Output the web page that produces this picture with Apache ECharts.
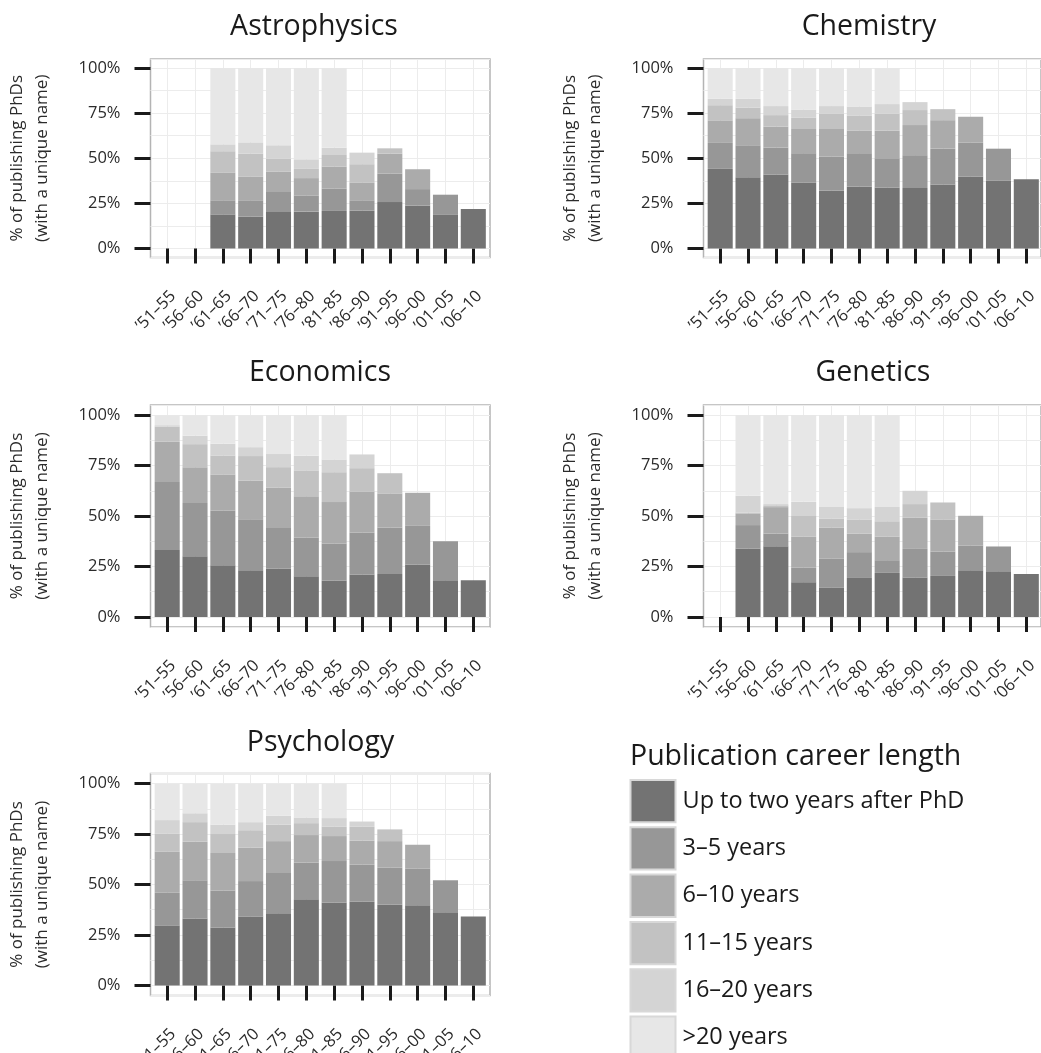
<!DOCTYPE html>
<html>
<head>
<meta charset="utf-8">
<script src="https://cdn.jsdelivr.net/npm/echarts@6/dist/echarts.min.js"></script>
<style>
  html, body { margin: 0; padding: 0; background: #fff; }
  #chart { width: 1041px; height: 1053px; }
</style>
</head>
<body>
<div id="chart"></div>
<script>
// ---------------- DATA ----------------
const categories = ['\u201951\u201355', '\u201956\u201360', '\u201961\u201365', '\u201966\u201370', '\u201971\u201375', '\u201976\u201380',
                    '\u201981\u201385', '\u201986\u201390', '\u201991\u201395', '\u201996\u201300', '\u201901\u201305', '\u201906\u201310'];
const careerLevels = ['Up to two years after PhD', '3\u20135 years', '6\u201310 years', '11\u201315 years', '16\u201320 years', '>20 years'];
const yTickValues = [0, 25, 50, 75, 100];
const disciplineNames = ['Astrophysics', 'Chemistry', 'Economics', 'Genetics', 'Psychology'];

// segment heights (% of publishing PhDs), one row per career level
const astrophysics = [
  [null, null, 18.9, 17.6, 20.2, 20.4, 20.8, 21.1, 25.7, 23.7, 18.6, 21.9],
  [null, null, 7.8, 9.1, 11.1, 9.0, 12.3, 5.6, 15.8, 9.2, 11.2, null],
  [null, null, 15.2, 13.0, 11.2, 9.6, 12.3, 9.9, 11.1, 11.0, null, null],
  [null, null, 12.0, 12.9, 7.3, 5.1, 6.4, 10.1, 2.9, null, null, null],
  [null, null, 3.8, 6.2, 7.4, 5.3, 4.1, 6.4, null, null, null, null],
  [null, null, 42.3, 41.2, 42.8, 50.6, 44.1, null, null, null, null, null]
];
const chemistry = [
  [44.1, 39.5, 41.0, 36.4, 32.0, 34.4, 33.8, 33.5, 35.5, 39.9, 37.5, 38.4],
  [14.4, 17.7, 14.9, 16.4, 18.9, 18.4, 16.2, 18.2, 19.8, 18.7, 17.8, null],
  [12.5, 15.0, 11.6, 13.4, 15.3, 12.6, 15.3, 16.7, 15.8, 14.4, null, null],
  [8.4, 5.9, 6.4, 6.2, 8.6, 8.3, 9.3, 8.3, 6.1, null, null, null],
  [3.5, 4.8, 5.0, 4.6, 4.1, 5.0, 5.4, 4.4, null, null, null, null],
  [17.1, 17.1, 21.1, 23.0, 21.1, 21.3, 20.0, null, null, null, null, null]
];
const economics = [
  [33.2, 30.1, 25.6, 23.1, 24.0, 20.2, 17.9, 21.0, 21.2, 26.0, 18.2, 18.2],
  [33.6, 26.3, 27.0, 25.3, 20.1, 19.0, 18.3, 20.8, 23.1, 19.1, 19.3, null],
  [20.0, 17.8, 17.8, 19.2, 20.0, 20.6, 20.7, 20.3, 16.9, 16.4, null, null],
  [7.5, 11.4, 9.6, 12.1, 10.1, 12.8, 14.8, 11.6, 10.0, null, null, null],
  [0.7, 4.2, 5.8, 4.4, 6.5, 7.2, 6.3, 6.8, null, null, null, null],
  [5.0, 10.2, 14.2, 15.9, 19.3, 20.2, 22.0, null, null, null, null, null]
];
const genetics = [
  [null, 33.9, 35.0, 17.2, 14.4, 19.3, 21.8, 19.5, 20.3, 23.1, 22.6, 21.2],
  [null, 11.6, 6.3, 7.3, 14.4, 12.8, 6.3, 14.2, 12.1, 12.3, 12.3, null],
  [null, 5.8, 13.1, 15.2, 15.5, 9.1, 11.6, 15.4, 15.9, 14.7, null, null],
  [null, 0.4, 0.9, 10.3, 4.3, 7.1, 7.7, 6.8, 8.4, null, null, null],
  [null, 8.3, 0.6, 7.0, 5.9, 5.6, 7.1, 6.6, null, null, null, null],
  [null, 40.0, 44.1, 43.0, 45.5, 46.1, 45.5, null, null, null, null, null]
];
const psychology = [
  [29.5, 33.1, 28.7, 34.1, 35.7, 42.7, 41.0, 41.5, 40.0, 39.7, 36.2, 34.1],
  [16.6, 19.0, 18.3, 17.6, 20.0, 18.1, 20.6, 18.3, 18.3, 18.1, 15.9, null],
  [20.1, 19.1, 18.6, 16.5, 15.8, 13.7, 12.4, 11.9, 13.2, 11.9, null, null],
  [8.9, 9.7, 9.4, 8.7, 8.1, 5.9, 4.6, 6.9, 5.8, null, null, null],
  [6.8, 4.4, 4.7, 4.0, 4.4, 2.8, 4.3, 2.6, null, null, null, null],
  [18.1, 14.7, 20.3, 19.1, 16.0, 16.8, 17.1, null, null, null, null, null]
];
const disciplineData = [astrophysics, chemistry, economics, genetics, psychology];

// ---------------- STYLE / LAYOUT ----------------
const levelColors = ['#737373', '#979797', '#ababab', '#c2c2c2', '#d4d4d4', '#e7e7e7'];
const FONT = '"Open Sans", "Noto Sans", sans-serif';
const layout = [
  { left: 150.5, top: 59,    height: 198.5, titleX: 314,   titleY: 35 },
  { left: 703.5, top: 59,    height: 198.5, titleX: 869,   titleY: 35 },
  { left: 150.5, top: 405,   height: 222,   titleX: 320,   titleY: 381.7 },
  { left: 703.5, top: 405,   height: 222,   titleX: 873,   titleY: 381.7 },
  { left: 150.5, top: 773.5, height: 222,   titleX: 320.5, titleY: 751.7 }
];
const PANEL_W = 339.5;
const BAND = PANEL_W / 12.2;      // category band; 0.6-band padding at each side of the panel
const TITLE_SIZE = 28.5;
const XLABEL_SIZE = 16.5;

const grids = [], xAxes = [], yAxes = [], series = [], graphics = [];
layout.forEach((L, i) => {
  // frame grid: border + horizontal grid lines + y ticks/labels
  grids.push({
    left: L.left, top: L.top, width: PANEL_W, height: L.height,
    show: true, borderColor: '#b4b4b4', borderWidth: 1.5, backgroundColor: 'transparent'
  });
  // inner grid: the bars
  grids.push({
    left: L.left + 0.1 * BAND, top: L.top, width: 12 * BAND, height: L.height, show: false
  });
  xAxes.push({
    gridIndex: 2 * i, type: 'value', min: 0, max: 1, show: false
  });
  xAxes.push({
    gridIndex: 2 * i + 1, type: 'category', data: categories, offset: 1,
    axisLine: { show: false },
    axisTick: { show: true, interval: 0, alignWithLabel: true, length: 15, lineStyle: { width: 3, color: '#1a1a1a' } },
    axisLabel: { show: false, interval: 0 },
    splitLine: { show: true, interval: 0, alignWithLabel: true, lineStyle: { color: '#ececec', width: 1 } }
  });
  yAxes.push({
    gridIndex: 2 * i, type: 'value', min: -5, max: 105,
    axisLine: { show: false },
    axisTick: { show: true, customValues: yTickValues, length: 16, lineStyle: { width: 3, color: '#1a1a1a' } },
    axisLabel: { customValues: yTickValues, formatter: '{value}%', margin: 30, fontSize: 16.5, color: '#2b2b2b', fontFamily: FONT },
    splitLine: { show: false },
    name: '% of publishing PhDs\n(with a unique name)',
    nameLocation: 'middle', nameRotate: 90, nameGap: 96,
    nameTextStyle: { fontSize: 17, lineHeight: 25, color: '#2b2b2b', fontFamily: FONT, align: 'center' }
  });
  yAxes.push({
    gridIndex: 2 * i, type: 'value', min: -5, max: 105, minInterval: 12.5, maxInterval: 12.5,
    position: 'left',
    axisLine: { show: false }, axisTick: { show: false }, axisLabel: { show: false },
    splitLine: { show: true, lineStyle: { color: '#ececec', width: 1 } }
  });
  yAxes.push({
    gridIndex: 2 * i + 1, type: 'value', min: -5, max: 105,
    axisLine: { show: false }, axisTick: { show: false }, axisLabel: { show: false }, splitLine: { show: false }
  });
  disciplineData[i].forEach((vals, j) => {
    series.push({
      type: 'bar', name: careerLevels[j], xAxisIndex: 2 * i + 1, yAxisIndex: 3 * i + 2,
      stack: 'panel' + i, data: vals, barCategoryGap: '10%',
      itemStyle: { color: levelColors[j] }, silent: true
    });
  });
  graphics.push({
    type: 'text', x: L.titleX, y: L.titleY - 0.3 * TITLE_SIZE,
    style: { text: disciplineNames[i], font: TITLE_SIZE + 'px ' + FONT, fill: '#1a1a1a', align: 'center', verticalAlign: 'middle' }
  });
});

graphics.push({
  type: 'text', x: 630, y: 765 - 0.3 * TITLE_SIZE,
  style: { text: 'Publication career length', font: TITLE_SIZE + 'px ' + FONT, fill: '#1a1a1a', align: 'left', verticalAlign: 'middle' }
});

const chart = echarts.init(document.getElementById('chart'), null, { renderer: 'canvas' });
chart.setOption({
  backgroundColor: '#ffffff',
  animation: false,
  textStyle: { fontFamily: FONT },
  grid: grids,
  xAxis: xAxes,
  yAxis: yAxes,
  series: series,
  legend: {
    data: careerLevels, orient: 'vertical', left: 629.5, top: 779, height: 300, padding: 0,
    itemWidth: 45, itemHeight: 42.3, itemGap: 3, icon: 'rect', selectedMode: false,
    itemStyle: { borderColor: '#d8d8d8', borderWidth: 2 },
    textStyle: { fontSize: 23.5, color: '#1a1a1a', fontFamily: FONT, padding: [0, 0, 0, 2] }
  },
  graphic: graphics
});

// rotated category labels, positioned from the axes' own scales
layout.forEach((L, i) => {
  const bottomY = chart.convertToPixel({ yAxisIndex: 3 * i + 2 }, -5);
  categories.forEach((cat) => {
    const px = chart.convertToPixel({ xAxisIndex: 2 * i + 1 }, cat);
    graphics.push({
      type: 'text', x: px + 6, y: bottomY + 36, rotation: Math.PI / 4,
      style: { text: cat, font: XLABEL_SIZE + 'px ' + FONT, fill: '#2b2b2b', align: 'right', verticalAlign: 'middle' }
    });
  });
});
chart.setOption({ graphic: graphics });
</script>
</body>
</html>
